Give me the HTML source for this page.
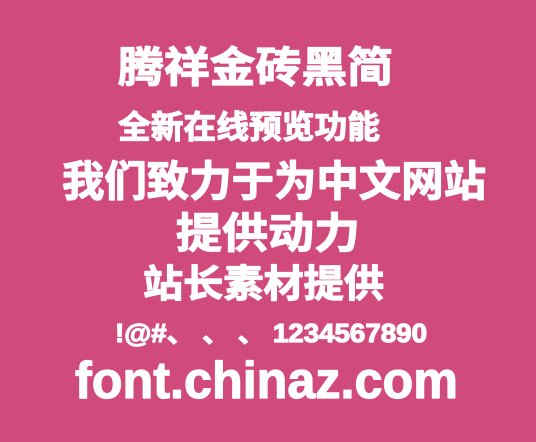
<!DOCTYPE html>
<html><head><meta charset="utf-8"><style>
html,body{margin:0;padding:0;width:536px;height:442px;overflow:hidden;background:#D04A7B}
svg{display:block}
text{fill:#fff;stroke:#fff;stroke-width:1.2;stroke-linejoin:round;font-family:"Liberation Sans","Noto Sans CJK SC",sans-serif;font-weight:bold}
</style></head><body>
<svg width="536" height="442">
<rect width="536" height="442" fill="#D04A7B"/>
<text x="118" y="82" font-size="42" textLength="275" lengthAdjust="spacingAndGlyphs">腾祥金砖黑简</text>
<text x="118" y="138" font-size="32" textLength="262" lengthAdjust="spacingAndGlyphs">全新在线预览功能</text>
<text x="62" y="196" font-size="42" textLength="424" lengthAdjust="spacingAndGlyphs">我们致力于为中文网站</text>
<text x="176" y="248" font-size="42" textLength="184" lengthAdjust="spacingAndGlyphs">提供动力</text>
<text x="143" y="297" font-size="38" textLength="241" lengthAdjust="spacingAndGlyphs">站长素材提供</text>
<text x="115" y="342" font-size="26" textLength="312" lengthAdjust="spacingAndGlyphs">!@#、 、 、 1234567890</text>
<text x="75" y="398" font-size="52" textLength="383" lengthAdjust="spacingAndGlyphs">font.chinaz.com</text>
</svg>
</body></html>
